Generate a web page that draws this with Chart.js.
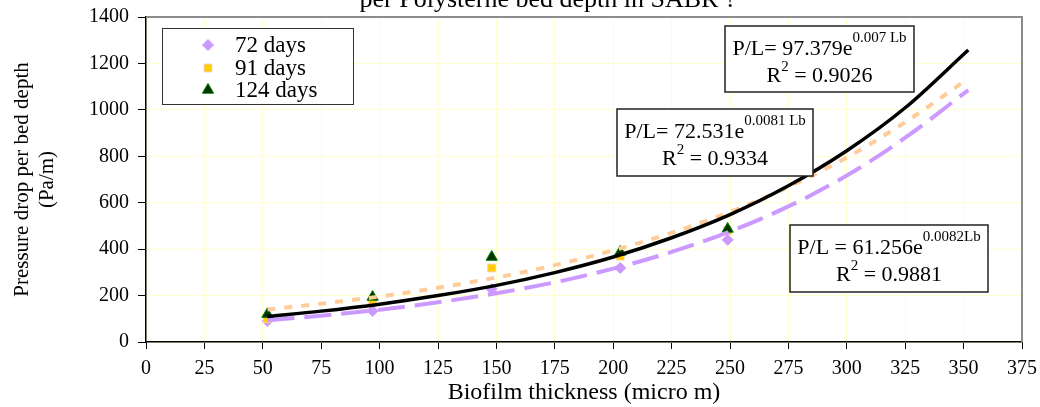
<!DOCTYPE html>
<html lang="en">
<head>
<meta charset="UTF-8">
<title>Pressure drop per bed depth</title>
<script src="https://cdn.jsdelivr.net/npm/chart.js"></script>
<style>
  html, body { margin: 0; padding: 0; background: #fff; }
  #wrap { width: 1040px; height: 407px; }
</style>
</head>
<body>
<div id="wrap"><canvas id="grafico"></canvas></div>
<script>
// dados
const tituloTopo = 'per Polysterne bed depth in SABR ?';
const nomesSeries = ['72 days', '91 days', '124 days'];
const espessura = [52, 97, 148, 203, 249];
const dias72 = [90, 134, 228, 319, 440];
const dias91 = [100, 170, 319, 370, 480];
const dias124 = [120, 194, 366, 388, 487];

// linhas de tendencia (valores lidos ao longo das curvas)
const tendX = [52, 75, 100, 125, 150, 175, 200, 225, 250, 275, 300, 325, 352];
const tend72 = [94, 113, 139, 171, 210, 257, 316, 388, 476, 584, 717, 880, 1085];
const tend91 = [140, 165, 196, 234, 278, 331, 395, 470, 560, 668, 795, 947, 1135];
const tend124 = [110, 133, 163, 200, 244, 299, 366, 449, 549, 673, 824, 1009, 1258];

const eqBase = ['P/L= 97.379e', 'P/L= 72.531e', 'P/L = 61.256e'];
const eqExpo = ['0.007 Lb', '0.0081 Lb', '0.0082Lb'];
const eqR2 = ['0.9026', '0.9334', '0.9881'];

const FONTE = '"Liberation Serif", "Times New Roman", serif';

function pontos(xs, ys) {
    return xs.map((x, i) => ({ x: x, y: ys[i] }));
}

const estilos = [
    { style: 'rectRot', cor: '#CC99FF', borda: '#CC99FF', raio: 5.5 },
    { style: 'rect', cor: '#FFCC00', borda: '#FFCC99', raio: 5.5 },
    { style: 'triangle', cor: '#003300', borda: '#008000', raio: 6.5 }
];

const caixas = [
    [725, 26, 914, 92],
    [617, 109, 813, 176],
    [790, 225, 988, 292]
];

function desenhaEquacao(ctx, c, i) {
    const [x1, y1, x2, y2] = c;
    ctx.fillStyle = '#fff';
    ctx.fillRect(x1, y1, x2 - x1, y2 - y1);
    ctx.strokeStyle = '#222';
    ctx.lineWidth = 1.5;
    ctx.strokeRect(x1, y1, x2 - x1, y2 - y1);

    const meio = (x1 + x2) / 2;
    ctx.fillStyle = '#000';
    ctx.textAlign = 'left';
    ctx.textBaseline = 'alphabetic';

    // linha 1
    ctx.font = '22px ' + FONTE;
    const w1 = ctx.measureText(eqBase[i]).width;
    ctx.font = '15px ' + FONTE;
    const w2 = ctx.measureText(eqExpo[i]).width;
    let x = meio - (w1 + w2) / 2;
    ctx.font = '22px ' + FONTE;
    ctx.fillText(eqBase[i], x, y1 + 29);
    ctx.font = '15px ' + FONTE;
    ctx.fillText(eqExpo[i], x + w1, y1 + 16);

    // linha 2
    ctx.font = '22px ' + FONTE;
    const wR = ctx.measureText('R').width;
    const wResto = ctx.measureText(' = ' + eqR2[i]).width;
    ctx.font = '15px ' + FONTE;
    const w2b = ctx.measureText('2').width;
    x = meio - (wR + w2b + wResto) / 2;
    ctx.font = '22px ' + FONTE;
    ctx.fillText('R', x, y1 + 56);
    ctx.font = '15px ' + FONTE;
    ctx.fillText('2', x + wR, y1 + 45);
    ctx.font = '22px ' + FONTE;
    ctx.fillText(' = ' + eqR2[i], x + wR + w2b, y1 + 56);
}

const extras = {
    id: 'extras',
    beforeDatasetsDraw(chart) {
        const ctx = chart.ctx;
        const a = chart.chartArea;
        ctx.save();
        ctx.strokeStyle = '#8c8c8c';
        ctx.lineWidth = 2;
        ctx.beginPath();
        ctx.moveTo(a.left, a.top);
        ctx.lineTo(a.right, a.top);
        ctx.lineTo(a.right, a.bottom);
        ctx.stroke();
        ctx.restore();
    },
    afterDraw(chart) {
        const ctx = chart.ctx;
        ctx.save();

        // titulo cortado no topo
        ctx.fillStyle = '#000';
        ctx.font = '26px ' + FONTE;
        ctx.textAlign = 'center';
        ctx.textBaseline = 'alphabetic';
        ctx.fillText(tituloTopo, 548, 7);

        // legenda
        ctx.fillStyle = '#fff';
        ctx.fillRect(162, 28, 191, 76);
        ctx.strokeStyle = '#333';
        ctx.lineWidth = 1;
        ctx.strokeRect(162.5, 28.5, 191, 76);
        const linhas = [45, 68, 90];
        nomesSeries.forEach((nome, i) => {
            const e = estilos[i];
            ctx.fillStyle = e.cor;
            ctx.strokeStyle = e.borda;
            Chart.helpers.drawPoint(ctx, { pointStyle: e.style, radius: e.raio, rotation: 0, borderWidth: 1 }, 208, linhas[i]);
            ctx.fillStyle = '#000';
            ctx.font = '23px ' + FONTE;
            ctx.textAlign = 'left';
            ctx.textBaseline = 'middle';
            ctx.fillText(nome, 235, linhas[i] + 1);
        });

        caixas.forEach((c, i) => desenhaEquacao(ctx, c, i));
        ctx.restore();
    }
};

const ctx = document.getElementById('grafico');

new Chart(ctx, {
    type: 'scatter',
    data: {
        datasets: [
            {
                label: 'tend 124',
                data: pontos(tendX, tend124),
                showLine: true,
                borderColor: '#000',
                borderWidth: 3.5,
                pointRadius: 0,
                cubicInterpolationMode: 'monotone',
                order: 1
            },
            {
                label: 'tend 91',
                data: pontos(tendX, tend91),
                showLine: true,
                borderColor: '#FFCC99',
                borderWidth: 4,
                borderDash: [8, 9],
                pointRadius: 0,
                cubicInterpolationMode: 'monotone',
                order: 2
            },
            {
                label: 'tend 72',
                data: pontos(tendX, tend72),
                showLine: true,
                borderColor: '#CC99FF',
                borderWidth: 4,
                borderDash: [27, 10],
                pointRadius: 0,
                cubicInterpolationMode: 'monotone',
                order: 3
            },
            {
                label: nomesSeries[2],
                data: pontos(espessura, dias124),
                pointStyle: estilos[2].style,
                backgroundColor: estilos[2].cor,
                borderColor: estilos[2].borda,
                borderWidth: 1,
                pointRadius: estilos[2].raio,
                order: 4
            },
            {
                label: nomesSeries[1],
                data: pontos(espessura, dias91),
                pointStyle: estilos[1].style,
                backgroundColor: estilos[1].cor,
                borderColor: estilos[1].borda,
                borderWidth: 1,
                pointRadius: estilos[1].raio,
                order: 5
            },
            {
                label: nomesSeries[0],
                data: pontos(espessura, dias72),
                pointStyle: estilos[0].style,
                backgroundColor: estilos[0].cor,
                borderColor: estilos[0].borda,
                borderWidth: 1,
                pointRadius: estilos[0].raio,
                order: 6
            }
        ]
    },
    options: {
        responsive: true,
        maintainAspectRatio: false,
        animation: false,
        layout: { padding: { top: 17, right: 18, left: 0, bottom: 0 } },
        plugins: {
            legend: { display: false },
            tooltip: { enabled: false }
        },
        scales: {
            x: {
                type: 'linear',
                min: 0,
                max: 375,
                afterFit: (s) => { s.height = 65; s.paddingLeft = 0; s.paddingRight = 0; },
                ticks: {
                    stepSize: 25,
                    color: '#000',
                    padding: 8,
                    maxRotation: 0,
                    font: { family: FONTE, size: 20 }
                },
                grid: {
                    color: '#FFFFCC',
                    tickColor: '#000',
                    tickLength: 7,
                    lineWidth: 1
                },
                border: { color: '#000', width: 1.5 },
                title: {
                    display: true,
                    text: 'Biofilm thickness (micro m)',
                    color: '#000',
                    font: { family: FONTE, size: 24 },
                    padding: { top: 0, bottom: 0 }
                }
            },
            y: {
                min: 0,
                max: 1400,
                afterFit: (s) => { s.width = 146; s.paddingTop = 0; s.paddingBottom = 0; },
                ticks: {
                    stepSize: 200,
                    color: '#000',
                    padding: 9,
                    font: { family: FONTE, size: 20 },
                    callback: (v) => String(v)
                },
                grid: {
                    color: '#FFFFCC',
                    tickColor: '#000',
                    tickLength: 8,
                    lineWidth: 1
                },
                border: { color: '#000', width: 1.5 },
                title: {
                    display: true,
                    text: ['Pressure drop per bed depth', '(Pa/m)'],
                    color: '#000',
                    font: { family: FONTE, size: 21 },
                    padding: { top: 10, bottom: 0 }
                }
            }
        }
    },
    plugins: [extras]
});
</script>
</body>
</html>
